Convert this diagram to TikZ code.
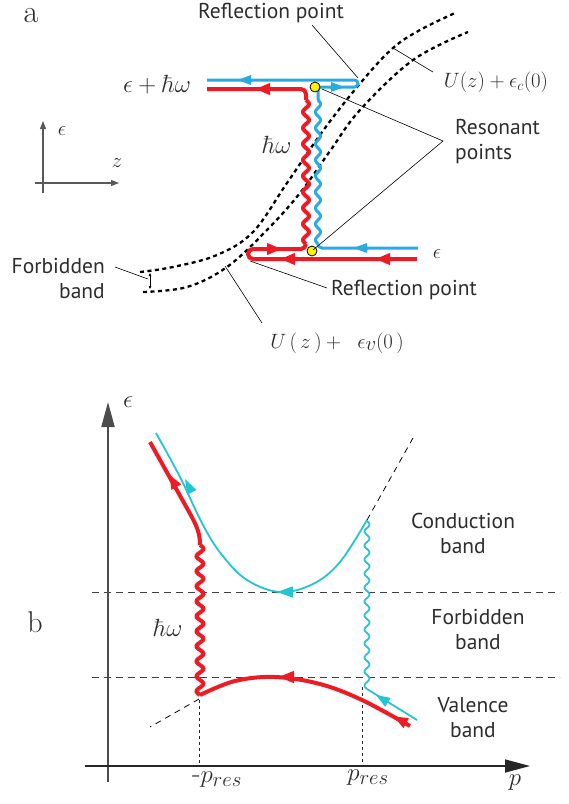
\documentclass[tikz,border=0pt]{standalone}
\usepackage[no-math]{fontspec}
\usetikzlibrary{arrows.meta}
\newfontfamily\sansf{PT Sans}
\definecolor{myred}{RGB}{237,28,36}
\definecolor{myblue}{RGB}{41,171,226}
\definecolor{mycyan}{RGB}{36,196,210}
\definecolor{txt}{RGB}{45,45,45}
\begin{document}
\begin{tikzpicture}[x=1pt,y=-1pt,
  slbl/.style={font=\sansf\fontsize{21.5}{25}\selectfont, text=txt, inner sep=0pt, align=center},
  mlbl/.style={font=\fontsize{22}{26}\selectfont, text=txt, inner sep=0pt},
  band/.style={line width=2.3pt, dash pattern=on 4pt off 3.5pt},
  leader/.style={line width=0.6pt},
  redA/.style={myred, line width=4pt},
  blueA/.style={myblue, line width=3pt},
  redB/.style={myred, line width=4pt},
  cyanB/.style={mycyan, line width=1.8pt},
  rtip/.style={-{Triangle[length=15pt,width=11pt]}},
  btip/.style={-{Triangle[length=14pt,width=9pt]}},
  dashb/.style={black!75, line width=1pt, dash pattern=on 7pt off 5pt},
  dotb/.style={black!85, line width=0.9pt, dash pattern=on 3pt off 3pt},
  thindash/.style={black, line width=0.8pt, dash pattern=on 6pt off 5pt},
]
\useasboundingbox (0,0) rectangle (569,804);

% ================= panel a =================
\node[font=\fontsize{32}{34}\selectfont, text=txt, inner sep=0pt] (la) at (31,16) {a};

% axes
\draw[black!65, line width=1.2pt, -{Triangle[length=8pt,width=6pt]}] (43,193) -- (43,121);
\draw[black!65, line width=1.2pt, -{Triangle[length=8pt,width=6pt]}] (35,183) -- (119,183);
\node[mlbl, font=\fontsize{20}{22}\selectfont] (aeps) at (62,131) {$\epsilon$};
\node[mlbl, font=\fontsize{21}{22}\selectfont] (az) at (117,163) {$z$};

% band edges
\draw[band] plot[smooth, tension=0.6] coordinates {(140,272) (173,267) (217,255) (253,232) (287,183) (325,128) (363,80) (393,48) (420,30) (455,13)};
\draw[band] plot[smooth, tension=0.6] coordinates {(143,292) (187,287) (227,267) (267,230) (300,193) (330,151) (360,110) (413,60) (468,32)};

% red path
\draw[redA, rounded corners=5pt] (306,100) -- (306,89) -- (207,89);
\draw[redA] plot[domain=100:244, samples=160, smooth] ({306+3*sin((\x-100)*22.5)},\x);
\draw[redA, rounded corners=5pt] (306,244) -- (306,249) -- (248,249) -- (248,259) -- (417,259);
% blue path
\draw[blueA, rounded corners=3.5pt] (318,100) -- (318,87) -- (358,87) -- (358,80) -- (207,80);
\draw[blueA] plot[domain=100:244, samples=160, smooth] ({318+2.5*sin((\x-100)*22.5)},\x);
\draw[blueA, rounded corners=4pt] (318,244) -- (318,248) -- (418,248);

% arrows on lines
\draw[blueA, btip] (252,80) -- (237,80);
\draw[blueA, btip] (330,87) -- (345,87);
\draw[redA, rtip] (270,89) -- (255,89);
\draw[redA, rtip] (267,249) -- (282,249);
\draw[redA, rtip] (295,259) -- (280,259);
\draw[redA, rtip] (390,259) -- (375,259);
\draw[blueA, btip] (368,248) -- (353,248);

% resonant points
\draw[fill=yellow, line width=0.8pt] (315,87) circle (5);
\draw[fill=yellow, line width=0.8pt] (312,251) circle (5);

% leaders
\draw[leader] (312,25) -- (358,78);
\draw[leader] (433,72) -- (393,48);
\draw[leader] (322,89) -- (443,141) -- (313,250);
\draw[leader] (115,267) -- (148,279);
\draw[line width=0.6pt, {Triangle[length=3pt,width=2.5pt]}-{Triangle[length=3pt,width=2.5pt]}] (150,273) -- (150,289);
\draw[leader] (250,261) -- (327,288);
\draw[leader] (225,266) -- (262,323);

% labels
\node[slbl] (reftop) at (271,13) {Reflection point};
\node[mlbl] (uc) at (496,82) {$U(z)+\epsilon_c(0)$};
\node[slbl, anchor=west, align=left] (res) at (455,142) {Resonant\\points};
\node[slbl, anchor=east, align=right] (forba) at (105,279) {Forbidden\\band};
\node[slbl] (refbot) at (404,290) {Reflection point};
\node[mlbl] (uv) at (337,343) {$U\,(\,z\,)+\;\;\epsilon\raisebox{-2pt}{$v$}(0\,)$};
\node[mlbl] (epsr) at (437,254) {$\epsilon$};
\node[mlbl, font=\fontsize{27}{30}\selectfont] (ehw) at (157,85) {$\epsilon+\hbar\omega$};
\node[mlbl, font=\fontsize{31}{33}\selectfont] (hwa) at (277,145) {$\hbar\omega$};

% ================= panel b =================
\node[font=\fontsize{30}{32}\selectfont, text=txt, inner sep=0pt] (lb) at (35,622) {b};

\draw[dashb] (92,592) -- (560,592);
\draw[dashb] (92,677) -- (560,677);
\draw[dotb] (199,700) -- (199,766);
\draw[dotb] (362,687) -- (362,766);

\draw[black!70, line width=2pt, -{Triangle[length=25pt,width=13pt]}] (108,782) -- (108,402);
\draw[black!85, line width=1.5pt, -{Triangle[length=25pt,width=13pt]}] (85,766) -- (530,766);

% conduction band
\draw[cyanB] plot[smooth, tension=0.6] coordinates {(156,433) (180,477) (203,525) (222,555) (247,580) (280,592) (313,584) (340,562) (367,520)};
\draw[thindash] (367,520) -- (413,438);
\draw[cyanB] plot[domain=521:689, samples=200, smooth] ({367+2.5*sin((\x-521)*25.714)},\x);
\draw[cyanB] (367,689) -- (417,720);

% red
\draw[redB] (150,442) -- (188,510) .. controls (197,526) and (200,533) .. (200,545);
\draw[redB] plot[domain=545:695, samples=200, smooth] ({200+3.5*sin((\x-545)*24)},\x);
\draw[redB] plot[smooth, tension=0.6] coordinates {(200,695) (235,681) (275,677) (320,684) (362,700) (410,726)};
\draw[thindash] (199,699) -- (150,727);

% arrows b
\draw[cyanB, -{Triangle[length=16pt,width=11pt]}] (290,592) -- (277,592);
\draw[cyanB, -{Triangle[length=15pt,width=10pt]}] (190.5,489.7) -- (185,479);
\draw[redB, -{Triangle[length=15pt,width=10pt]}] (174.9,484.5) -- (169,474);
\draw[redB, -{Triangle[length=16pt,width=11pt]}] (292,677) -- (278,677);
\draw[redB, -{Triangle[length=15pt,width=10pt]}] (403.5,721.7) -- (393,716);
\draw[cyanB, -{Triangle[length=14pt,width=10pt]}] (386.2,701.3) -- (376,695);

% labels b
\node[mlbl, font=\fontsize{24}{26}\selectfont] (beps) at (128,402) {$\epsilon$};
\node[mlbl, font=\fontsize{28}{30}\selectfont] (hwb) at (168,628) {$\hbar\omega$};
\node[mlbl, font=\fontsize{28}{30}\selectfont] (mpres) at (217,780) {-$p_{res}$};
\node[mlbl, font=\fontsize{28}{30}\selectfont] (pres) at (368,778) {$p_{res}$};
\node[mlbl, font=\fontsize{28}{30}\selectfont] (pp) at (515,783) {$p$};
\node[slbl] (cb) at (463,533) {Conduction\\band};
\node[slbl] (fb) at (478,630) {Forbidden\\band};
\node[slbl] (vb) at (473,718) {Valence\\band};
\end{tikzpicture}
\end{document}
